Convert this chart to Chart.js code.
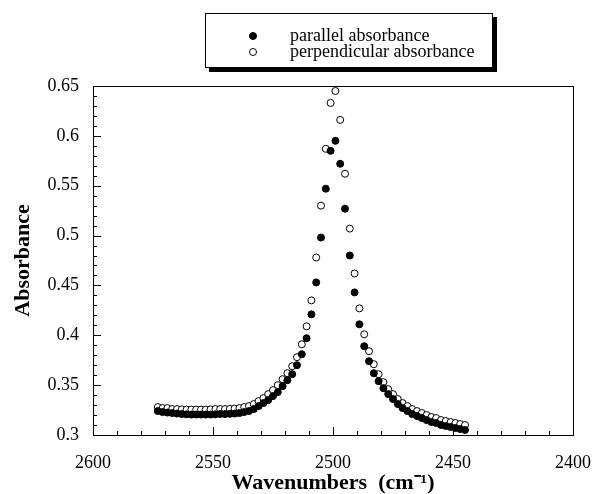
<!DOCTYPE html>
<html>
<head>
<meta charset="utf-8">
<script src="https://cdn.jsdelivr.net/npm/chart.js@4.4.1/dist/chart.umd.min.js"></script>
<style>
  body { margin: 0; background: #fff; }
  #wrap { position: relative; width: 608px; height: 494px; }
  #legend {
    position: absolute; left: 205px; top: 13px; width: 286px; height: 53px;
    border: 1px solid #000; box-shadow: 4px 4px 0 #000; background: #fff;
    font: 18px 'Liberation Serif', 'Times New Roman', serif; color: #000;
  }
  #legend .row { position: absolute; left: 0; height: 18px; line-height: 18px; }
  #legend .dot { position: absolute; left: 43px; top: 5px; width: 6px; height: 6px; border-radius: 50%; border: 1px solid #000; }
  #legend .txt { position: absolute; left: 84px; top: -1px; white-space: nowrap; }
</style>
</head>
<body>
<div id="wrap">
  <canvas id="chart" width="608" height="494"></canvas>
  <div id="legend">
    <div class="row" style="top:13px"><span class="dot" style="background:#000"></span><span class="txt">parallel absorbance</span></div>
    <div class="row" style="top:29px"><span class="dot" style="background:#fff"></span><span class="txt">perpendicular absorbance</span></div>
  </div>
</div>
<script>
// wavenumbers (cm-1)
const WAVENUMBERS = [
  2573, 2571, 2569, 2567, 2565, 2563, 2561, 2559, 2557, 2555,
  2553, 2551, 2549, 2547, 2545, 2543, 2541, 2539, 2537, 2535,
  2533, 2531, 2529, 2527, 2525, 2523, 2521, 2519, 2517, 2515,
  2513, 2511, 2509, 2507, 2505, 2503, 2501, 2499, 2497, 2495,
  2493, 2491, 2489, 2487, 2485, 2483, 2481, 2479, 2477, 2475,
  2473, 2471, 2469, 2467, 2465, 2463, 2461, 2459, 2457, 2455,
  2453, 2451, 2449, 2447, 2445
];
const PARALLEL = [
  0.324, 0.323, 0.3225, 0.322, 0.3215, 0.321, 0.3207, 0.3205, 0.3205, 0.3205,
  0.3205, 0.3205, 0.3207, 0.321, 0.321, 0.3212, 0.3215, 0.322, 0.323, 0.324,
  0.326, 0.329, 0.332, 0.335, 0.339, 0.343, 0.349, 0.355, 0.361, 0.370,
  0.381, 0.397, 0.421, 0.453, 0.498, 0.547, 0.585, 0.595, 0.572, 0.527,
  0.480, 0.443, 0.411, 0.389, 0.374, 0.362, 0.354, 0.347, 0.341, 0.336,
  0.331, 0.327, 0.324, 0.321, 0.319, 0.317, 0.315, 0.313, 0.312, 0.310,
  0.309, 0.308, 0.307, 0.306, 0.305
];
const PERPENDICULAR = [
  0.328, 0.327, 0.327, 0.326, 0.326, 0.3257, 0.3255, 0.3255, 0.3255, 0.3255,
  0.3255, 0.3257, 0.326, 0.326, 0.326, 0.3262, 0.3265, 0.327, 0.328, 0.329,
  0.331, 0.334, 0.337, 0.341, 0.345, 0.350, 0.356, 0.362, 0.369, 0.378,
  0.391, 0.409, 0.435, 0.478, 0.530, 0.587, 0.633, 0.645, 0.616, 0.562,
  0.507, 0.462, 0.427, 0.401, 0.384, 0.371, 0.361, 0.353, 0.346, 0.341,
  0.336, 0.332, 0.329, 0.326, 0.324, 0.322, 0.320, 0.318, 0.317, 0.315,
  0.314, 0.313, 0.312, 0.311, 0.310
];
const X_TICKS = [2600, 2550, 2500, 2450, 2400];
const Y_TICKS = [0.3, 0.35, 0.4, 0.45, 0.5, 0.55, 0.6, 0.65];

const SERIF = "'Liberation Serif', 'Times New Roman', serif";

// box round the plot and inward ticks, majors long, minors short
const frameTicks = {
  id: 'frameTicks',
  beforeDatasetsDraw(chart) {
    const { ctx, chartArea: a, scales: { x, y } } = chart;
    ctx.save();
    ctx.strokeStyle = '#000';
    ctx.lineWidth = 1;
    ctx.strokeRect(a.left + 0.5, a.top + 0.5, a.right - a.left, a.bottom - a.top);
    ctx.beginPath();
    for (let v = 2400; v <= 2600; v += 10) {
      const px = Math.round(x.getPixelForValue(v)) + 0.5;
      const len = X_TICKS.includes(v) ? 8 : 4;
      ctx.moveTo(px, a.bottom);
      ctx.lineTo(px, a.bottom - len);
    }
    for (let i = 0; i <= 35; i++) {
      const v = 0.3 + i * 0.01;
      const py = Math.round(y.getPixelForValue(v)) + 0.5;
      const len = i % 5 === 0 ? 8 : 4;
      ctx.moveTo(a.left, py);
      ctx.lineTo(a.left + len, py);
    }
    ctx.stroke();
    ctx.restore();
  }
};

new Chart(document.getElementById('chart'), {
  type: 'scatter',
  data: {
    datasets: [
      {
        label: 'parallel absorbance',
        data: WAVENUMBERS.map((w, i) => ({ x: w, y: PARALLEL[i] })),
        pointRadius: 3.5,
        pointBackgroundColor: '#000',
        pointBorderColor: '#000',
        pointBorderWidth: 1
      },
      {
        label: 'perpendicular absorbance',
        data: WAVENUMBERS.map((w, i) => ({ x: w, y: PERPENDICULAR[i] })),
        pointRadius: 3.5,
        pointBackgroundColor: '#fff',
        pointBorderColor: '#000',
        pointBorderWidth: 1
      }
    ]
  },
  options: {
    responsive: false,
    animation: false,
    layout: { padding: { top: 86, right: 20, left: 0, bottom: 0 } },
    plugins: { legend: { display: false }, tooltip: { enabled: false } },
    scales: {
      x: {
        type: 'linear',
        reverse: true,
        min: 2400,
        max: 2600,
        afterBuildTicks: s => { s.ticks = X_TICKS.map(v => ({ value: v })); },
        afterFit: s => { s.height = 59; },
        grid: { display: false, drawTicks: false },
        border: { display: false },
        ticks: { color: '#000', padding: 17, maxRotation: 0, callback: v => String(v), font: { family: SERIF, size: 18 } },
        title: {
          display: true,
          text: 'Wavenumbers  (cm\u207B\u00B9)',
          color: '#000',
          padding: { top: 0, bottom: 0 },
          font: { family: SERIF, size: 22, weight: 'bold', lineHeight: 1 }
        }
      },
      y: {
        min: 0.3,
        max: 0.65,
        afterBuildTicks: s => { s.ticks = Y_TICKS.map(v => ({ value: v })); },
        afterFit: s => { s.width = 93; },
        grid: { display: false, drawTicks: false },
        border: { display: false },
        ticks: { color: '#000', padding: 14, callback: v => String(+v.toFixed(2)), font: { family: SERIF, size: 18 } },
        title: {
          display: true,
          text: 'Absorbance',
          color: '#000',
          padding: { top: 12, bottom: 0 },
          font: { family: SERIF, size: 22, weight: 'bold', lineHeight: 1 }
        }
      }
    }
  },
  plugins: [frameTicks]
});
</script>
</body>
</html>
